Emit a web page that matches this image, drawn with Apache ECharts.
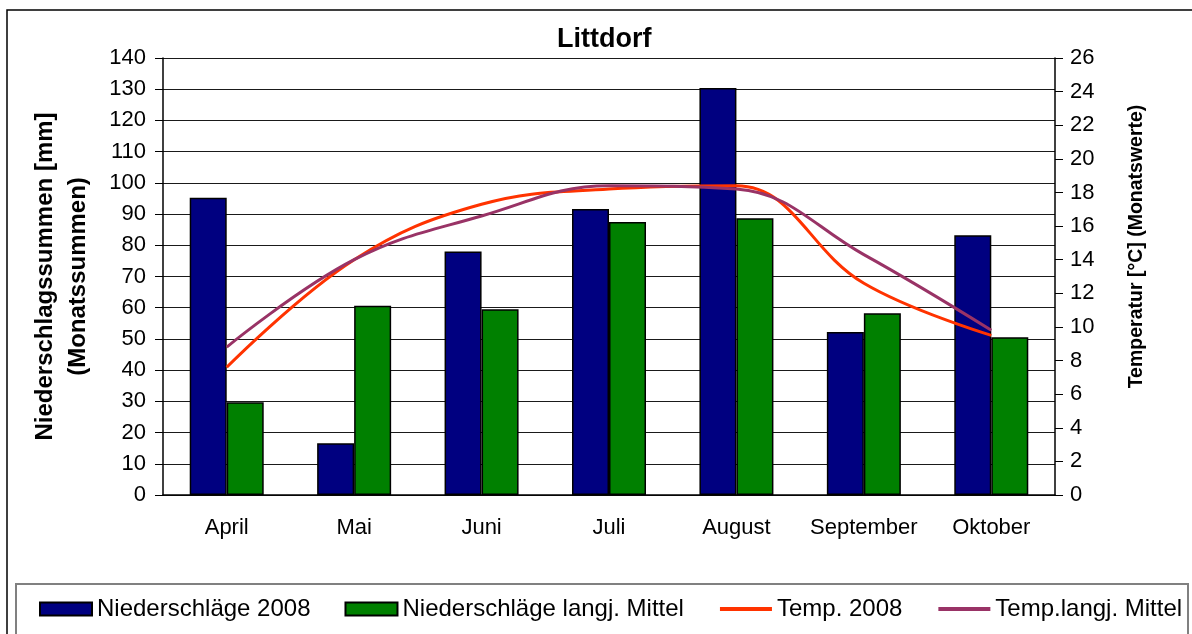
<!DOCTYPE html>
<html>
<head>
<meta charset="utf-8">
<title>Littdorf</title>
<script src="https://cdn.jsdelivr.net/npm/echarts@6/dist/echarts.min.js"></script>
<style>
  html, body { margin: 0; padding: 0; background: #fff; }
  #chart { width: 1192px; height: 634px; }
</style>
</head>
<body>
<div id="chart"></div>
<script>
// Monate
const months = ["April", "Mai", "Juni", "Juli", "August", "September", "Oktober"];
// Niederschlag [mm]
const rain2008 = [95.2, 16.6, 78, 91.6, 130.4, 52.2, 83.2];
const rainMean = [29.7, 60.6, 59.5, 87.5, 88.7, 58.2, 50.5];
// Temperatur [°C]
const temp2008 = [7.6, 14.0, 17.3, 18.2, 18.4, 12.6, 9.5];
const tempMean = [8.8, 14.0, 16.6, 18.4, 18.2, 14.3, 9.8];

const font = "Liberation Sans, Arial, sans-serif";

let chart = echarts.init(document.getElementById("chart"));
chart.setOption({
  animation: false,
  textStyle: { fontFamily: font, color: "#000" },
  title: {
    text: "Littdorf",
    left: 552,
    top: 21,
    textStyle: { fontSize: 27, fontWeight: "bold", color: "#000", fontFamily: font },
  },
  graphic: [
    {
      type: "rect",
      shape: { x: 7, y: 10, width: 1200, height: 700 },
      style: { fill: "none", stroke: "#000", lineWidth: 1.5 },
      silent: true,
    },
    {
      type: "rect",
      shape: { x: 16, y: 584, width: 1172, height: 80 },
      style: { fill: "none", stroke: "#808080", lineWidth: 2 },
      silent: true,
    },
  ],
  legend: {
    left: 39,
    top: 597,
    width: 1150,
    padding: 0,
    itemWidth: 52,
    itemHeight: 13,
    itemGap: 34,
    textStyle: { fontSize: 24, color: "#000", fontFamily: font },
    data: [
      { name: "Niederschläge 2008", icon: "rect" },
      { name: "Niederschläge langj. Mittel", icon: "rect" },
      { name: "Temp. 2008", itemStyle: { opacity: 0 }, lineStyle: { width: 4 } },
      { name: "Temp.langj. Mittel", itemStyle: { opacity: 0 }, lineStyle: { width: 4 } },
    ],
  },
  grid: { left: 163, right: 137, top: 58, bottom: 139 },
  xAxis: {
    type: "category",
    data: months,
    axisLine: { lineStyle: { color: "#000", width: 1.5 } },
    axisTick: { length: 9, lineStyle: { color: "#000" } },
    axisLabel: { fontSize: 22, color: "#000", margin: 22, interval: 0 },
  },
  yAxis: [
    {
      type: "value",
      min: 0,
      max: 140,
      interval: 10,
      name: "Niederschlagssummen [mm]\n(Monatssummen)",
      nameLocation: "middle",
      nameRotate: 90,
      nameGap: 68,
      nameTextStyle: { fontSize: 24, fontWeight: "bold", color: "#000", lineHeight: 33, fontFamily: font },
      axisLine: { show: true, lineStyle: { color: "#000", width: 1.5 } },
      axisTick: { show: true, length: 8, lineStyle: { color: "#000" } },
      axisLabel: { fontSize: 22, color: "#000", margin: 17 },
      splitLine: { lineStyle: { color: "#1a1a1a", width: 1 } },
    },
    {
      type: "value",
      min: 0,
      max: 26,
      interval: 2,
      name: "Temperatur [°C] (Monatswerte)",
      nameLocation: "middle",
      nameRotate: 90,
      nameGap: 72,
      nameTextStyle: { fontSize: 19.5, fontWeight: "bold", color: "#000", fontFamily: font, padding: [0, 0, 0, 60] },
      axisLine: { show: true, lineStyle: { color: "#000", width: 1.5 } },
      axisTick: { show: true, length: 8, lineStyle: { color: "#000" } },
      axisLabel: { fontSize: 22, color: "#000", margin: 15 },
      splitLine: { show: false },
    },
  ],
  series: [
    {
      name: "Niederschläge 2008",
      type: "bar",
      data: rain2008,
      barWidth: 37,
      barGap: "0%",
      itemStyle: { color: "#000080", borderColor: "#000", borderWidth: 1.5 },
    },
    {
      name: "Niederschläge langj. Mittel",
      type: "bar",
      data: rainMean,
      barWidth: 37,
      barGap: "0%",
      itemStyle: { color: "#008000", borderColor: "#000", borderWidth: 1.5 },
    },
    {
      name: "Temp. 2008",
      type: "line",
      yAxisIndex: 1,
      data: temp2008,
      smooth: 0.4,
      symbol: "none",
      lineStyle: { color: "#FF3300", width: 3 },
      itemStyle: { color: "#FF3300" },
    },
    {
      name: "Temp.langj. Mittel",
      type: "line",
      yAxisIndex: 1,
      data: tempMean,
      smooth: 0.4,
      symbol: "none",
      lineStyle: { color: "#993366", width: 3 },
      itemStyle: { color: "#993366" },
    },
  ],
});
</script>
</body>
</html>
